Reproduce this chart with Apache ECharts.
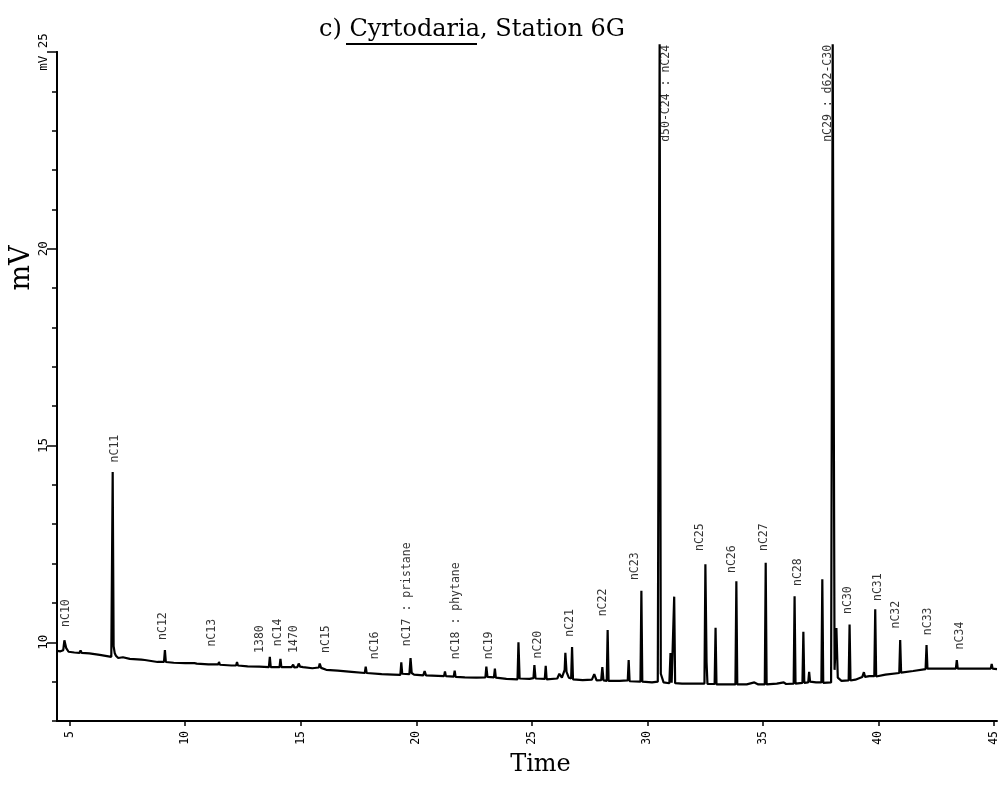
<!DOCTYPE html>
<html><head><meta charset="utf-8">
<script src="https://cdn.jsdelivr.net/npm/echarts@6/dist/echarts.min.js"></script>
<style>html,body{margin:0;padding:0;background:#fff}#c{width:1000px;height:785px}</style>
</head><body><div id="c"></div>
<script>
const titleText = 'c) Cyrtodaria, Station 6G';
const xName = 'Time';
const yName = 'mV';
const xTickValues = [5, 10, 15, 20, 25, 30, 35, 40, 45];
const yLabelValues = [10, 15, 20, 25];

// chromatogram trace: [time (min), signal (mV)]
const trace = [
  [4.45, 9.78], [4.6, 9.77], [4.72, 9.8], [4.77, 10.05], [4.85, 9.85], [4.95, 9.76],
  [5.2, 9.74], [5.42, 9.73], [5.47, 9.79], [5.52, 9.73], [5.85, 9.72], [5.88, 9.77], [5.92, 9.71],
  [6.3, 9.68], [6.8, 9.63], [6.82, 9.63], [6.86, 14.33], [6.9, 9.9], [6.95, 9.72], [7.0, 9.66],
  [7.1, 9.6], [7.3, 9.62], [7.6, 9.58], [8.1, 9.56], [8.18, 9.61], [8.25, 9.55], [8.8, 9.5],
  [9.08, 9.5], [9.12, 9.8], [9.16, 9.5], [9.5, 9.48], [10.0, 9.47], [10.4, 9.47], [10.45, 9.51],
  [10.5, 9.46], [11.0, 9.44], [11.43, 9.44], [11.46, 9.5], [11.5, 9.43], [12.0, 9.41], [12.2, 9.41],
  [12.24, 9.5], [12.28, 9.41], [12.7, 9.39], [13.2, 9.38], [13.62, 9.37], [13.66, 9.63], [13.7, 9.37],
  [14.08, 9.37], [14.12, 9.58], [14.16, 9.37], [14.6, 9.37], [14.67, 9.43], [14.72, 9.36], [14.85, 9.37],
  [14.91, 9.46], [14.97, 9.38], [15.1, 9.37], [15.5, 9.34], [15.78, 9.36], [15.82, 9.46], [15.88, 9.35],
  [16.1, 9.3], [16.6, 9.28], [17.2, 9.25], [17.77, 9.22], [17.81, 9.38], [17.85, 9.22], [18.5, 9.19],
  [19.0, 9.18], [19.31, 9.17], [19.35, 9.49], [19.39, 9.2], [19.7, 9.19], [19.75, 9.6], [19.8, 9.22],
  [19.9, 9.18], [20.3, 9.16], [20.36, 9.27], [20.42, 9.16], [21.2, 9.14], [21.24, 9.26], [21.28, 9.14],
  [21.62, 9.13], [21.66, 9.28], [21.7, 9.12], [22.1, 9.11], [22.6, 9.1], [22.99, 9.11], [23.03, 9.38],
  [23.08, 9.12], [23.36, 9.11], [23.4, 9.33], [23.44, 9.1], [23.9, 9.07], [24.38, 9.06], [24.42, 10.0],
  [24.47, 9.08], [24.9, 9.07], [25.07, 9.09], [25.11, 9.42], [25.16, 9.08], [25.56, 9.07], [25.6, 9.4],
  [25.64, 9.06], [26.1, 9.08], [26.19, 9.2], [26.3, 9.1], [26.42, 9.3], [26.45, 9.73], [26.5, 9.25],
  [26.6, 9.1], [26.7, 9.08], [26.74, 9.88], [26.78, 9.06], [27.2, 9.04], [27.6, 9.05], [27.7, 9.19],
  [27.8, 9.03], [28.0, 9.04], [28.05, 9.37], [28.1, 9.03], [28.24, 9.02], [28.28, 10.31], [28.32, 9.02],
  [28.8, 9.02], [29.15, 9.03], [29.19, 9.55], [29.23, 9.01], [29.7, 9.0], [29.74, 11.31], [29.78, 9.0],
  [30.2, 8.98], [30.45, 9.0], [30.5, 9.05], [30.53, 25.2], [30.58, 9.2], [30.7, 8.98], [30.95, 8.96],
  [31.0, 9.73], [31.05, 8.97], [31.12, 8.97], [31.16, 11.16], [31.2, 8.96], [31.5, 8.95], [32.0, 8.95],
  [32.47, 8.95], [32.51, 11.98], [32.56, 9.5], [32.6, 8.94], [32.91, 8.94], [32.95, 10.37], [32.99, 8.93],
  [33.4, 8.93], [33.81, 8.93], [33.85, 11.55], [33.89, 8.93], [34.3, 8.93], [34.63, 8.98], [34.8, 8.93],
  [35.08, 8.93], [35.12, 12.02], [35.16, 8.93], [35.6, 8.95], [35.9, 8.98], [36.0, 8.94], [36.33, 8.95],
  [36.37, 11.17], [36.41, 8.95], [36.71, 8.97], [36.75, 10.27], [36.79, 8.97], [36.96, 8.98], [37.0, 9.25],
  [37.04, 9.0], [37.3, 8.98], [37.53, 8.98], [37.57, 11.6], [37.61, 8.97], [37.95, 8.98], [38.02, 25.2],
  [38.1, 9.3], [38.18, 10.36], [38.24, 9.1], [38.4, 9.02], [38.71, 9.03], [38.75, 10.45], [38.79, 9.03],
  [39.0, 9.05], [39.3, 9.12], [39.37, 9.24], [39.42, 9.12], [39.6, 9.14], [39.82, 9.14], [39.86, 10.84],
  [39.9, 9.13], [40.3, 9.18], [40.9, 9.22], [40.94, 10.06], [40.98, 9.23], [41.5, 9.27], [42.04, 9.32],
  [42.08, 9.93], [42.12, 9.33], [42.8, 9.33], [43.35, 9.33], [43.39, 9.55], [43.43, 9.33], [44.4, 9.33],
  [44.86, 9.33], [44.9, 9.45], [44.94, 9.33], [45.13, 9.32]
];

// peak annotations: name, retention time, mV level of the label foot
const labelNames = ['nC10', 'nC11', 'nC12', 'nC13', '1380', 'nC14', '1470', 'nC15', 'nC16',
  'nC17 : pristane', 'nC18 : phytane', 'nC19', 'nC20', 'nC21', 'nC22', 'nC23', 'nC25', 'nC26',
  'nC27', 'nC28', 'nC30', 'nC31', 'nC32', 'nC33', 'nC34'];
const labelTimes = [4.86, 6.96, 9.05, 11.17, 13.24, 14.02, 14.71, 16.09, 18.23,
  19.59, 21.71, 23.14, 25.25, 26.67, 28.09, 29.47, 32.29, 33.68,
  35.06, 36.51, 38.67, 40.0, 40.76, 42.15, 43.53];
const labelMv = [10.39, 14.57, 10.06, 9.89, 9.73, 9.9, 9.73, 9.73, 9.57,
  9.9, 9.57, 9.57, 9.59, 10.14, 10.66, 11.58, 12.32, 11.76,
  12.32, 11.43, 10.72, 11.05, 10.35, 10.18, 9.82];
// off-scale peaks, labelled from the top of the frame
const bigLabelNames = ['d50-C24 : nC24', 'nC29 : d62-C30'];
const bigLabelTimes = [30.82, 37.82];
const bigLabelMv = [25.18, 25.18];

const chart = echarts.init(document.getElementById('c'), null, {renderer: 'canvas'});
const mono = 'DejaVu Sans Mono';
const serif = 'DejaVu Serif';

chart.setOption({
  animation: false,
  backgroundColor: '#fff',
  title: {
    text: titleText, left: 314, top: 13,
    textStyle: {fontFamily: serif, fontSize: 24, fontWeight: 'normal', color: '#000'}
  },
  grid: {left: 57, right: 0, top: 52, bottom: 64, containLabel: false},
  xAxis: {
    type: 'value', min: 4.45, max: 45.13,
    name: xName, nameLocation: 'middle', nameGap: 30,
    nameTextStyle: {fontFamily: serif, fontSize: 24, color: '#000', padding: [0, 0, 0, 27]},
    axisLine: {show: true, lineStyle: {color: '#000', width: 2}},
    axisTick: {show: true, customValues: xTickValues, length: 5, lineStyle: {color: '#000', width: 1.5}},
    axisLabel: {customValues: xTickValues, rotate: 90, margin: 10, fontFamily: mono, fontSize: 11.5, color: '#000'},
    splitLine: {show: false}
  },
  yAxis: [{
    type: 'value', min: 8, max: 25, interval: 1, position: 'left',
    axisLine: {show: true, lineStyle: {color: '#000', width: 2}},
    axisTick: {show: true, customValues: yLabelValues, length: 10, lineStyle: {color: '#000', width: 1.5}},
    axisLabel: {customValues: yLabelValues, rotate: 90, margin: 7, fontFamily: mono, fontSize: 12.5, color: '#000',
      formatter: v => v === 25 ? 'mV 25' : String(v)},
    splitLine: {show: false}
  }, {
    type: 'value', min: 8, max: 25, interval: 1, position: 'left', offset: 0,
    axisLine: {show: true, lineStyle: {color: '#000', width: 2}},
    axisTick: {show: true, length: 5, lineStyle: {color: '#000', width: 1.5}},
    axisLabel: {show: false},
    splitLine: {show: false}
  }],
  series: [{
    type: 'line', data: trace, showSymbol: false, symbol: 'none', clip: false,
    lineStyle: {color: '#000', width: 2.2}, z: 3
  }, {
    type: 'scatter', symbolSize: 0, clip: false,
    data: labelTimes.map((t, i) => [t, labelMv[i], labelNames[i]]),
    label: {show: true, position: 'inside', rotate: 90, align: 'left', verticalAlign: 'middle',
      formatter: p => p.data[2], fontFamily: mono, fontSize: 11.5, color: '#000'}
  }, {
    type: 'scatter', symbolSize: 0, clip: false,
    data: bigLabelTimes.map((t, i) => [t, bigLabelMv[i], bigLabelNames[i]]),
    label: {show: true, position: 'inside', rotate: 90, align: 'right', verticalAlign: 'middle',
      formatter: p => p.data[2], fontFamily: mono, fontSize: 11.5, color: '#000'}
  }],
  graphic: [{
    type: 'text', x: 22, y: 268, rotation: Math.PI / 2,
    style: {text: yName, font: '27px "DejaVu Serif"', fill: '#000', align: 'center', verticalAlign: 'middle'}
  }, {
    type: 'line', shape: {x1: 346, y1: 44, x2: 477, y2: 44}, style: {stroke: '#000', lineWidth: 2}
  }]
});
</script></body></html>
